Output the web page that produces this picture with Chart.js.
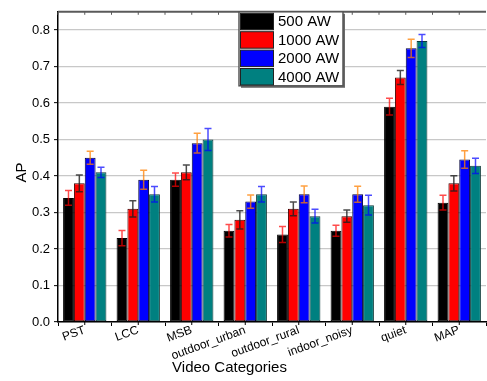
<!DOCTYPE html>
<html>
<head>
<meta charset="utf-8">
<script src="https://cdn.jsdelivr.net/npm/chart.js@4/dist/chart.umd.min.js"></script>
<style>
  html, body { margin: 0; padding: 0; background: #ffffff; }
  #chart { display: block; }
</style>
</head>
<body>
<canvas id="chart" width="487" height="381"></canvas>
<script>
// Average precision per video category for four AW settings, with error bars
const categories = ['PST', 'LCC', 'MSB', 'outdoor_urban', 'outdoor_rural', 'indoor_noisy', 'quiet', 'MAP'];
const seriesLabels = ['500 AW', '1000 AW', '2000 AW', '4000 AW'];

const ap500  = [0.34, 0.23, 0.39, 0.25, 0.24, 0.25, 0.59, 0.327];
const ap1000 = [0.38, 0.31, 0.41, 0.28, 0.31, 0.29, 0.67, 0.38];
const ap2000 = [0.45, 0.39, 0.49, 0.33, 0.35, 0.35, 0.75, 0.445];
const ap4000 = [0.41, 0.35, 0.50, 0.35, 0.29, 0.32, 0.77, 0.428];

const err500  = [0.020, 0.021, 0.018, 0.017, 0.022, 0.015, 0.023, 0.020];
const err1000 = [0.023, 0.022, 0.020, 0.025, 0.019, 0.017, 0.019, 0.021];
const err2000 = [0.018, 0.026, 0.027, 0.018, 0.023, 0.022, 0.025, 0.024];
const err4000 = [0.014, 0.021, 0.030, 0.021, 0.019, 0.027, 0.018, 0.021];

const yTickLabels = ['0.0', '0.1', '0.2', '0.3', '0.4', '0.5', '0.6', '0.7', '0.8'];

const fillColors  = ['#000000', '#ff0000', '#0000ff', '#008080'];
const edgeColors  = ['#000000', '#3a0000', '#00003a', '#0f3a3a'];
const errorColors = ['rgba(255,0,0,0.7)', 'rgba(30,30,30,0.8)', 'rgba(255,128,0,0.75)', 'rgba(0,0,255,0.7)'];

const values = [ap500, ap1000, ap2000, ap4000];
const errors = [err500, err1000, err2000, err4000];

const FONT = '"Liberation Sans", Arial, sans-serif';

// Error bars drawn on top of each bar
const errorBarPlugin = {
  id: 'errorBars',
  afterDatasetsDraw(chart) {
    const ctx = chart.ctx;
    const y = chart.scales.y;
    ctx.save();
    ctx.lineWidth = 1.5;
    values.forEach((vals, i) => {
      const meta = chart.getDatasetMeta(i);
      meta.data.forEach((bar, j) => {
        const hi = y.getPixelForValue(vals[j] + errors[i][j]);
        const lo = y.getPixelForValue(vals[j] - errors[i][j]);
        const x = bar.x;
        ctx.strokeStyle = errorColors[i];
        ctx.beginPath();
        ctx.moveTo(x, hi); ctx.lineTo(x, lo);
        ctx.moveTo(x - 3.5, hi); ctx.lineTo(x + 3.5, hi);
        ctx.moveTo(x - 3.5, lo); ctx.lineTo(x + 3.5, lo);
        ctx.stroke();
      });
    });
    ctx.restore();
  }
};

// Top frame, extra axis ticks, axis titles and the boxed legend
const framePlugin = {
  id: 'frame',
  afterDraw(chart) {
    const ctx = chart.ctx;
    const a = chart.chartArea;
    const x = chart.scales.x;
    const half = (x.getPixelForValue(1) - x.getPixelForValue(0)) / 2;
    ctx.save();

    // top frame with short inward ticks at every half category
    ctx.strokeStyle = '#5a5a5a';
    ctx.lineWidth = 2;
    ctx.beginPath();
    ctx.moveTo(a.left, a.top); ctx.lineTo(a.right, a.top);
    ctx.stroke();
    ctx.lineWidth = 1;
    ctx.beginPath();
    categories.forEach((c, j) => {
      const cx = x.getPixelForValue(j);
      [cx - half, cx].forEach(px => { ctx.moveTo(px, a.top); ctx.lineTo(px, a.top + 3); });
    });
    ctx.stroke();

    // short ticks at category centres on the bottom axis
    ctx.strokeStyle = '#000000';
    ctx.lineWidth = 1;
    ctx.beginPath();
    categories.forEach((c, j) => {
      const cx = x.getPixelForValue(j);
      ctx.moveTo(cx, a.bottom); ctx.lineTo(cx, a.bottom + 3);
    });
    ctx.stroke();

    // axis titles
    ctx.fillStyle = '#000000';
    ctx.font = '15px ' + FONT;
    ctx.textAlign = 'center';
    ctx.textBaseline = 'alphabetic';
    ctx.fillText('Video Categories', 229.5, 371.5);
    ctx.save();
    ctx.translate(26, 172.5);
    ctx.rotate(-Math.PI / 2);
    ctx.fillText('AP', 0, 0);
    ctx.restore();

    // legend box
    const lx = 239, ly = a.top, lw = 104, lh = 74;
    ctx.fillStyle = '#6a6a6a';
    ctx.fillRect(lx + 2, ly + 2, lw, lh);
    ctx.fillStyle = '#ffffff';
    ctx.fillRect(lx, ly, lw, lh);
    ctx.strokeStyle = '#555555';
    ctx.lineWidth = 1.5;
    ctx.strokeRect(lx, ly, lw, lh);
    ctx.font = '15px ' + FONT;
    ctx.textAlign = 'left';
    ctx.textBaseline = 'middle';
    seriesLabels.forEach((lab, i) => {
      const sy = ly + 1.5 + i * 18.4;
      ctx.fillStyle = fillColors[i];
      ctx.fillRect(lx + 1.5, sy, 33, 16.5);
      ctx.strokeStyle = '#222222';
      ctx.lineWidth = 1;
      ctx.strokeRect(lx + 1.5, sy, 33, 16.5);
      ctx.fillStyle = '#000000';
      ctx.fillText(lab, lx + 39, sy + 9);
    });
    ctx.restore();
  }
};

new Chart(document.getElementById('chart'), {
  type: 'bar',
  data: {
    labels: categories,
    datasets: values.map((vals, i) => ({
      label: seriesLabels[i],
      data: vals,
      backgroundColor: fillColors[i],
      borderColor: edgeColors[i],
      borderWidth: 1,
      borderSkipped: false,
      barPercentage: 1.0,
      categoryPercentage: 0.81
    }))
  },
  options: {
    responsive: false,
    animation: false,
    devicePixelRatio: 1,
    layout: { padding: { top: 3, right: 1, left: 0, bottom: 0 } },
    plugins: {
      legend: { display: false },
      tooltip: { enabled: false }
    },
    scales: {
      x: {
        offset: true,
        afterFit: s => { s.height = 59; },
        grid: {
          offset: true,
          drawOnChartArea: false,
          drawTicks: true,
          tickLength: 4,
          tickColor: '#000000',
          tickWidth: 1
        },
        border: { display: true, color: '#000000', width: 1.5 },
        ticks: {
          autoSkip: false,
          minRotation: 20,
          maxRotation: 20,
          padding: -3,
          color: '#000000',
          font: { family: FONT, size: 12 }
        }
      },
      y: {
        min: 0,
        max: 0.85,
        afterFit: s => { s.width = 58; },
        grid: {
          color: '#c8c8c8',
          lineWidth: 1.3,
          drawTicks: true,
          tickLength: 4,
          tickColor: '#000000',
          tickWidth: 1
        },
        border: { display: true, color: '#000000', width: 1.5 },
        ticks: {
          stepSize: 0.05,
          padding: 4,
          color: '#000000',
          font: { family: FONT, size: 13 },
          callback: v => {
            const k = Math.round(v * 20);
            return k % 2 === 0 ? (yTickLabels[k / 2] || '') : '';
          }
        }
      }
    }
  },
  plugins: [errorBarPlugin, framePlugin]
});
</script>
</body>
</html>
